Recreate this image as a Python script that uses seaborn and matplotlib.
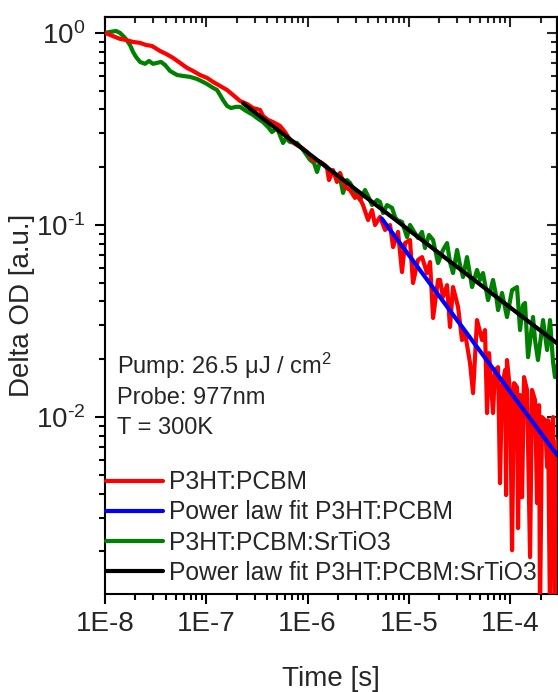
import numpy as np
import pandas as pd
import matplotlib
matplotlib.use("Agg")
import matplotlib.pyplot as plt
import seaborn as sns
from matplotlib.ticker import FuncFormatter, NullFormatter

# ---- data (log10 of time [s], log10 of Delta OD) ----
red_log_t = [-8.000, -7.951, -7.901, -7.852, -7.802, -7.723, -7.654, -7.595, -7.536, -7.457,
             -7.398, -7.328, -7.259, -7.190, -7.131, -7.062, -6.993, -6.933, -6.864, -6.795,
             -6.736, -6.667, -6.597, -6.538, -6.469, -6.440, -6.390, -6.341, -6.272, -6.222,
             -6.173, -6.123, -6.054, -6.005, -5.946, -5.896, -5.857, -5.807, -5.788, -5.748,
             -5.709, -5.679, -5.630, -5.580, -5.531, -5.501, -5.452, -5.402, -5.363, -5.333,
             -5.284, -5.234, -5.185, -5.155, -5.106, -5.067, -5.037, -4.988, -4.958, -4.909,
             -4.869, -4.820, -4.790, -4.760, -4.711, -4.691, -4.662, -4.622, -4.593, -4.563,
             -4.513, -4.474, -4.444, -4.395, -4.365, -4.326, -4.276, -4.247, -4.227, -4.207,
             -4.168, -4.148, -4.118, -4.099, -4.079, -4.049, -4.039, -4.030, -4.000, -3.980,
             -3.960, -3.931, -3.921, -3.901, -3.881, -3.862, -3.832, -3.802, -3.783, -3.753,
             -3.733, -3.713, -3.704, -3.684, -3.654, -3.634, -3.625, -3.605, -3.585, -3.575,
             -3.556, -3.530]
red_log_od = [0.000, -0.010, -0.021, -0.031, -0.036, -0.047, -0.052, -0.063, -0.068, -0.094,
              -0.109, -0.130, -0.156, -0.182, -0.198, -0.219, -0.234, -0.255, -0.276, -0.297,
              -0.323, -0.354, -0.370, -0.391, -0.401, -0.432, -0.453, -0.464, -0.484, -0.516,
              -0.557, -0.578, -0.599, -0.620, -0.661, -0.667, -0.677, -0.703, -0.766, -0.714,
              -0.776, -0.729, -0.802, -0.818, -0.859, -0.844, -0.896, -0.974, -0.922, -1.000,
              -0.958, -1.026, -1.000, -1.115, -1.036, -1.245, -1.094, -1.078, -1.302, -1.182,
              -1.167, -1.250, -1.193, -1.484, -1.286, -1.286, -1.375, -1.313, -1.531, -1.323,
              -1.427, -1.599, -1.563, -1.719, -1.875, -1.495, -1.599, -1.547, -1.979, -1.667,
              -1.979, -1.755, -1.740, -2.344, -1.844, -1.755, -2.406, -1.703, -1.859, -2.693,
              -1.823, -1.844, -2.578, -1.885, -2.417, -1.792, -1.859, -2.729, -1.859, -1.911,
              -2.448, -1.938, -3.050, -2.000, -2.016, -2.260, -2.016, -3.050, -2.042, -2.000,
              -3.050, -2.120]

green_log_t = [-8.000, -7.951, -7.891, -7.852, -7.802, -7.753, -7.723, -7.694, -7.654, -7.605,
               -7.565, -7.526, -7.486, -7.447, -7.407, -7.358, -7.289, -7.230, -7.160, -7.091,
               -7.032, -6.993, -6.933, -6.894, -6.864, -6.835, -6.795, -6.756, -6.706, -6.667,
               -6.607, -6.538, -6.499, -6.440, -6.390, -6.351, -6.301, -6.242, -6.212, -6.173,
               -6.104, -6.044, -5.975, -5.936, -5.906, -5.877, -5.827, -5.778, -5.709, -5.679,
               -5.649, -5.610, -5.580, -5.531, -5.481, -5.432, -5.393, -5.363, -5.313, -5.284,
               -5.254, -5.215, -5.165, -5.136, -5.116, -5.067, -5.017, -4.988, -4.958, -4.909,
               -4.869, -4.840, -4.800, -4.760, -4.711, -4.662, -4.622, -4.593, -4.563, -4.523,
               -4.494, -4.464, -4.425, -4.395, -4.375, -4.326, -4.296, -4.267, -4.217, -4.168,
               -4.138, -4.118, -4.079, -4.030, -3.980, -3.931, -3.901, -3.872, -3.852, -3.822,
               -3.773, -3.753, -3.724, -3.674, -3.634, -3.605, -3.575, -3.556, -3.530]
green_log_od = [0.000, 0.005, 0.010, 0.000, -0.026, -0.063, -0.099, -0.125, -0.151, -0.161,
                -0.146, -0.161, -0.156, -0.151, -0.167, -0.198, -0.219, -0.224, -0.229, -0.240,
                -0.255, -0.266, -0.286, -0.297, -0.323, -0.349, -0.380, -0.391, -0.385, -0.385,
                -0.406, -0.427, -0.443, -0.464, -0.490, -0.516, -0.495, -0.573, -0.547, -0.568,
                -0.573, -0.609, -0.661, -0.677, -0.724, -0.672, -0.688, -0.714, -0.740, -0.755,
                -0.833, -0.766, -0.781, -0.828, -0.870, -0.818, -0.859, -0.896, -0.870, -0.880,
                -0.938, -0.896, -0.911, -0.958, -0.974, -0.984, -1.063, -1.000, -1.026, -1.068,
                -1.036, -1.120, -1.052, -1.078, -1.198, -1.130, -1.094, -1.193, -1.250, -1.130,
                -1.208, -1.271, -1.167, -1.260, -1.323, -1.234, -1.286, -1.250, -1.391, -1.286,
                -1.365, -1.443, -1.354, -1.479, -1.339, -1.323, -1.547, -1.417, -1.406, -1.688,
                -1.479, -1.599, -1.703, -1.495, -1.651, -1.495, -1.714, -1.792, -1.729]

fit_red_t = [5.41e-6, 2.95e-4]
fit_red_od = [0.108, 0.0063]
fit_green_t = [2.31e-7, 2.95e-4]
fit_green_od = [0.43, 0.0241]

labels = ["P3HT:PCBM", "Power law fit P3HT:PCBM",
          "P3HT:PCBM:SrTiO3", "Power law fit P3HT:PCBM:SrTiO3"]
colors = ["#ff0000", "#0000ff", "#008000", "#000000"]
info_lines = ["Pump: 26.5 \u03bcJ / cm$^2$", "Probe: 977nm", "T = 300K"]
x_lim = (1e-8, 2.91e-4)
y_lim = (0.0012, 1.21)

# ---- style ----
sns.set_style("ticks")
plt.rcParams["font.family"] = ["Liberation Sans", "DejaVu Sans"]
plt.rcParams["mathtext.fontset"] = "custom"
plt.rcParams["mathtext.rm"] = "Liberation Sans"
plt.rcParams["mathtext.it"] = "Liberation Sans:italic"
plt.rcParams["mathtext.bf"] = "Liberation Sans:bold"
plt.rcParams["axes.unicode_minus"] = False

df_red = pd.DataFrame({"t": 10 ** np.array(red_log_t), "od": 10 ** np.array(red_log_od)})
df_green = pd.DataFrame({"t": 10 ** np.array(green_log_t), "od": 10 ** np.array(green_log_od)})
df_fr = pd.DataFrame({"t": fit_red_t, "od": fit_red_od})
df_fg = pd.DataFrame({"t": fit_green_t, "od": fit_green_od})

fig = plt.figure(figsize=(5.58, 6.92), dpi=100)
ax = fig.add_axes([105 / 558, 1 - 594 / 692, 452 / 558, 577 / 692])

lw = 3.0
sns.lineplot(data=df_green, x="t", y="od", ax=ax, color=colors[2], lw=lw,
             estimator=None, sort=False, label=labels[2], zorder=2)
sns.lineplot(data=df_red, x="t", y="od", ax=ax, color=colors[0], lw=lw,
             estimator=None, sort=False, label=labels[0], zorder=3)
sns.lineplot(data=df_fr, x="t", y="od", ax=ax, color=colors[1], lw=lw,
             estimator=None, sort=False, label=labels[1], zorder=4)
sns.lineplot(data=df_fg, x="t", y="od", ax=ax, color=colors[3], lw=lw,
             estimator=None, sort=False, label=labels[3], zorder=5)

ax.set_xscale("log")
ax.set_yscale("log")
ax.set_xlim(*x_lim)
ax.set_ylim(*y_lim)


def y_fmt(v, p):
    e = int(round(np.log10(v)))
    ex = ("\u2010%d" % -e) if e < 0 else "%d" % e
    return r"$\mathdefault{10^{%s}}$" % ex


ax.xaxis.set_major_formatter(FuncFormatter(lambda v, p: "1E%d" % int(round(np.log10(v)))))
ax.yaxis.set_major_formatter(FuncFormatter(y_fmt))
ax.xaxis.set_minor_formatter(NullFormatter())
ax.yaxis.set_minor_formatter(NullFormatter())

for s in ax.spines.values():
    s.set_linewidth(1.5)
    s.set_color("black")
    s.set_visible(True)

ax.tick_params(which="both", direction="out", width=1.5, color="black",
               top=False, right=False, labelsize=20)
ax.tick_params(which="major", length=7)
ax.tick_params(which="minor", length=4)
ax.tick_params(axis="x", which="major", pad=5)
ax.tick_params(axis="y", which="major", pad=7)

secx = ax.secondary_xaxis("top")
secx.tick_params(which="both", direction="in", width=1.5, labeltop=False)
secx.tick_params(which="major", length=7)
secx.tick_params(which="minor", length=4)
secx.xaxis.set_major_formatter(NullFormatter())
secx.xaxis.set_minor_formatter(NullFormatter())
secx.spines["top"].set_linewidth(1.5)

secy = ax.secondary_yaxis("right")
secy.tick_params(which="both", direction="in", width=1.5, labelright=False)
secy.tick_params(which="major", length=7)
secy.tick_params(which="minor", length=4)
secy.yaxis.set_major_formatter(NullFormatter())
secy.yaxis.set_minor_formatter(NullFormatter())
secy.spines["right"].set_linewidth(1.5)

ax.set_xlabel("Time [s]", fontsize=20, labelpad=21)
ax.set_ylabel("Delta OD [a.u.]", fontsize=20, labelpad=1)

info_y = [0.381, 0.329, 0.277]
for txt, yy in zip(info_lines, info_y):
    ax.text(0.0265, yy, txt, transform=ax.transAxes, fontsize=17,
            ha="left", va="baseline")

handles, labs = ax.get_legend_handles_labels()
order = [labs.index(l) for l in labels]
leg = ax.legend([handles[i] for i in order], [labs[i] for i in order],
                loc="lower left", bbox_to_anchor=(0.002, 0.016), frameon=False,
                fontsize=17.7, handlelength=2.33, handletextpad=0.24,
                borderpad=0, borderaxespad=0, labelspacing=0.25)
for line in leg.get_lines():
    line.set_linewidth(3)

fig.savefig("out.png", dpi=100)
